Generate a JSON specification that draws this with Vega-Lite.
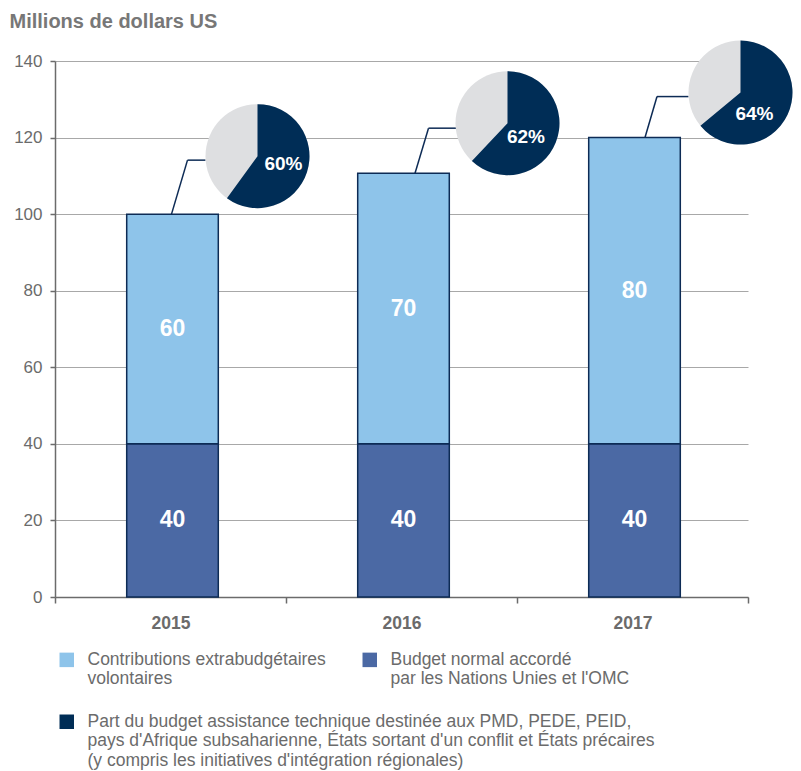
{
  "$schema": "https://vega.github.io/schema/vega-lite/v6.json",
  "width": 745,
  "height": 536,
  "autosize": {"type": "none"},
  "padding": {"left": 55, "top": 61, "right": 1, "bottom": 174},
  "config": {
    "view": {"stroke": null},
    "font": "Liberation Sans",
    "legend": {
      "labelFont": "Liberation Sans",
      "labelFontSize": 17.5,
      "labelColor": "#6b6b6b",
      "labelLimit": 700,
      "labelOffset": 12,
      "symbolType": "square",
      "symbolSize": 210,
      "symbolStrokeWidth": 0,
      "padding": 0,
      "rowPadding": 8
    }
  },
  "datasets": {
    "budget": [
      {"year": "2015", "source": "Budget normal accordé|par les Nations Unies et l'OMC", "value": 40, "label": "40"},
      {"year": "2015", "source": "Contributions extrabudgétaires|volontaires", "value": 60, "label": "60"},
      {"year": "2016", "source": "Budget normal accordé|par les Nations Unies et l'OMC", "value": 40, "label": "40"},
      {"year": "2016", "source": "Contributions extrabudgétaires|volontaires", "value": 70.7, "label": "70"},
      {"year": "2017", "source": "Budget normal accordé|par les Nations Unies et l'OMC", "value": 40, "label": "40"},
      {"year": "2017", "source": "Contributions extrabudgétaires|volontaires", "value": 80, "label": "80"}
    ],
    "share": [
      {"year": "2015", "part": "Part du budget assistance technique destinée aux PMD, PEDE, PEID,|pays d'Afrique subsaharienne, États sortant d'un conflit et États précaires|(y compris les initiatives d'intégration régionales)", "pct": 60, "total": 100, "label": "60%"},
      {"year": "2016", "part": "Part du budget assistance technique destinée aux PMD, PEDE, PEID,|pays d'Afrique subsaharienne, États sortant d'un conflit et États précaires|(y compris les initiatives d'intégration régionales)", "pct": 62, "total": 110.7, "label": "62%"},
      {"year": "2017", "part": "Part du budget assistance technique destinée aux PMD, PEDE, PEID,|pays d'Afrique subsaharienne, États sortant d'un conflit et États précaires|(y compris les initiatives d'intégration régionales)", "pct": 64, "total": 120, "label": "64%"}
    ]
  },
  "encoding": {
    "x": {
      "field": "year", "type": "nominal",
      "scale": {"type": "band", "range": [0, 693], "paddingInner": 0, "paddingOuter": 0},
      "axis": {
        "title": null, "labelAngle": 0, "labelFontSize": 17.5, "labelFontWeight": "bold", "labelColor": "#6b6b6b",
        "labelPadding": 11, "tickBand": "extent", "tickSize": 6, "tickColor": "#6b6b6b", "tickWidth": 1.5,
        "domainColor": "#6b6b6b", "domainWidth": 1.5, "grid": false
      }
    },
    "y": {
      "type": "quantitative",
      "scale": {"domain": [0, 140], "nice": false},
      "axis": {
        "values": [0, 20, 40, 60, 80, 100, 120, 140],
        "title": "Millions de dollars US", "titleAngle": 0, "titleAlign": "left", "titleBaseline": "alphabetic",
        "titleX": -46, "titleY": -34, "titleFontSize": 20, "titleFontWeight": "bold", "titleColor": "#777777",
        "labelFontSize": 17, "labelColor": "#6b6b6b", "labelPadding": 8,
        "tickSize": 5, "tickColor": "#6b6b6b", "tickWidth": 1.5,
        "domainColor": "#6b6b6b", "domainWidth": 1.5,
        "grid": true, "gridColor": "#a8a8a8", "gridWidth": 1
      }
    }
  },
  "layer": [
    {
      "data": {"name": "budget"},
      "mark": {"type": "bar", "width": 91.6, "xOffset": 2, "stroke": "#0d2b55", "strokeWidth": 1.5},
      "encoding": {
        "y": {"field": "value", "type": "quantitative", "stack": "zero"},
        "order": {"field": "source", "sort": "ascending"},
        "color": {
          "field": "source", "type": "nominal",
          "scale": {"domain": ["Contributions extrabudgétaires|volontaires", "Budget normal accordé|par les Nations Unies et l'OMC"], "range": ["#8ec4ea", "#4b69a4"]},
          "legend": {"orient": "none", "legendX": 3, "legendY": 590, "direction": "horizontal", "columns": 2, "columnPadding": 35, "title": null, "labelExpr": "split(datum.label, '|')"}
        }
      }
    },
    {
      "data": {"name": "budget"},
      "transform": [
        {"stack": "value", "groupby": ["year"], "sort": [{"field": "source", "order": "ascending"}], "as": ["v0", "v1"]},
        {"calculate": "(datum.v0 + datum.v1) / 2", "as": "mid"}
      ],
      "mark": {"type": "text", "xOffset": 2, "fontSize": 23, "fontWeight": "bold", "color": "white", "align": "center", "baseline": "middle"},
      "encoding": {
        "y": {"field": "mid", "type": "quantitative"},
        "text": {"field": "label"}
      }
    },
    {
      "data": {"name": "share"},
      "transform": [{"filter": "datum.year == '2015'"}],
      "layer": [
        {
          "mark": {"type": "rule", "color": "#0d2b55", "strokeWidth": 1.5, "xOffset": 1, "x2Offset": 17, "y2Offset": -54},
          "encoding": {"x2": {"field": "year"}, "y": {"field": "total", "type": "quantitative"}, "y2": {"field": "total"}}
        },
        {
          "mark": {"type": "rule", "color": "#0d2b55", "strokeWidth": 1.5, "xOffset": 17, "x2Offset": 35, "yOffset": -54},
          "encoding": {"x2": {"field": "year"}, "y": {"field": "total", "type": "quantitative"}}
        },
        {
          "mark": {"type": "arc", "radius": 52, "theta": 0, "theta2": 6.2832, "fill": "#dedfe1", "xOffset": 87, "yOffset": -58},
          "encoding": {"y": {"field": "total", "type": "quantitative"}}
        },
        {
          "mark": {"type": "arc", "radius": 52, "xOffset": 87, "yOffset": -58},
          "encoding": {
            "y": {"field": "total", "type": "quantitative"},
            "theta": {"field": "pct", "type": "quantitative", "stack": "zero", "scale": {"domain": [0, 100]}},
            "fill": {
              "field": "part", "type": "nominal",
              "scale": {"range": ["#002d56"]},
              "legend": {"orient": "none", "legendX": 3, "legendY": 652, "direction": "vertical", "title": null, "labelExpr": "split(datum.label, '|')"}
            }
          }
        },
        {
          "mark": {"type": "text", "xOffset": 113, "yOffset": -50, "fontSize": 19, "fontWeight": "bold", "color": "white", "align": "center", "baseline": "middle"},
          "encoding": {"y": {"field": "total", "type": "quantitative"}, "text": {"field": "label"}}
        }
      ]
    },
    {
      "data": {"name": "share"},
      "transform": [{"filter": "datum.year == '2016'"}],
      "layer": [
        {
          "mark": {"type": "rule", "color": "#0d2b55", "strokeWidth": 1.5, "xOffset": 13.5, "x2Offset": 27, "y2Offset": -45},
          "encoding": {"x2": {"field": "year"}, "y": {"field": "total", "type": "quantitative"}, "y2": {"field": "total"}}
        },
        {
          "mark": {"type": "rule", "color": "#0d2b55", "strokeWidth": 1.5, "xOffset": 27, "x2Offset": 55, "yOffset": -45},
          "encoding": {"x2": {"field": "year"}, "y": {"field": "total", "type": "quantitative"}}
        },
        {
          "mark": {"type": "arc", "radius": 52, "theta": 0, "theta2": 6.2832, "fill": "#dedfe1", "xOffset": 106, "yOffset": -50},
          "encoding": {"y": {"field": "total", "type": "quantitative"}}
        },
        {
          "mark": {"type": "arc", "radius": 52, "xOffset": 106, "yOffset": -50},
          "encoding": {
            "y": {"field": "total", "type": "quantitative"},
            "theta": {"field": "pct", "type": "quantitative", "stack": "zero", "scale": {"domain": [0, 100]}},
            "fill": {
              "field": "part", "type": "nominal",
              "scale": {"range": ["#002d56"]},
              "legend": {"orient": "none", "legendX": 3, "legendY": 652, "direction": "vertical", "title": null, "labelExpr": "split(datum.label, '|')"}
            }
          }
        },
        {
          "mark": {"type": "text", "xOffset": 124.5, "yOffset": -36, "fontSize": 19, "fontWeight": "bold", "color": "white", "align": "center", "baseline": "middle"},
          "encoding": {"y": {"field": "total", "type": "quantitative"}, "text": {"field": "label"}}
        }
      ]
    },
    {
      "data": {"name": "share"},
      "transform": [{"filter": "datum.year == '2017'"}],
      "layer": [
        {
          "mark": {"type": "rule", "color": "#0d2b55", "strokeWidth": 1.5, "xOffset": 12.5, "x2Offset": 24.5, "y2Offset": -41},
          "encoding": {"x2": {"field": "year"}, "y": {"field": "total", "type": "quantitative"}, "y2": {"field": "total"}}
        },
        {
          "mark": {"type": "rule", "color": "#0d2b55", "strokeWidth": 1.5, "xOffset": 24.5, "x2Offset": 56, "yOffset": -41},
          "encoding": {"x2": {"field": "year"}, "y": {"field": "total", "type": "quantitative"}}
        },
        {
          "mark": {"type": "arc", "radius": 52, "theta": 0, "theta2": 6.2832, "fill": "#dedfe1", "xOffset": 108, "yOffset": -45},
          "encoding": {"y": {"field": "total", "type": "quantitative"}}
        },
        {
          "mark": {"type": "arc", "radius": 52, "xOffset": 108, "yOffset": -45},
          "encoding": {
            "y": {"field": "total", "type": "quantitative"},
            "theta": {"field": "pct", "type": "quantitative", "stack": "zero", "scale": {"domain": [0, 100]}},
            "fill": {
              "field": "part", "type": "nominal",
              "scale": {"range": ["#002d56"]},
              "legend": {"orient": "none", "legendX": 3, "legendY": 652, "direction": "vertical", "title": null, "labelExpr": "split(datum.label, '|')"}
            }
          }
        },
        {
          "mark": {"type": "text", "xOffset": 122, "yOffset": -24, "fontSize": 19, "fontWeight": "bold", "color": "white", "align": "center", "baseline": "middle"},
          "encoding": {"y": {"field": "total", "type": "quantitative"}, "text": {"field": "label"}}
        }
      ]
    }
  ]
}
